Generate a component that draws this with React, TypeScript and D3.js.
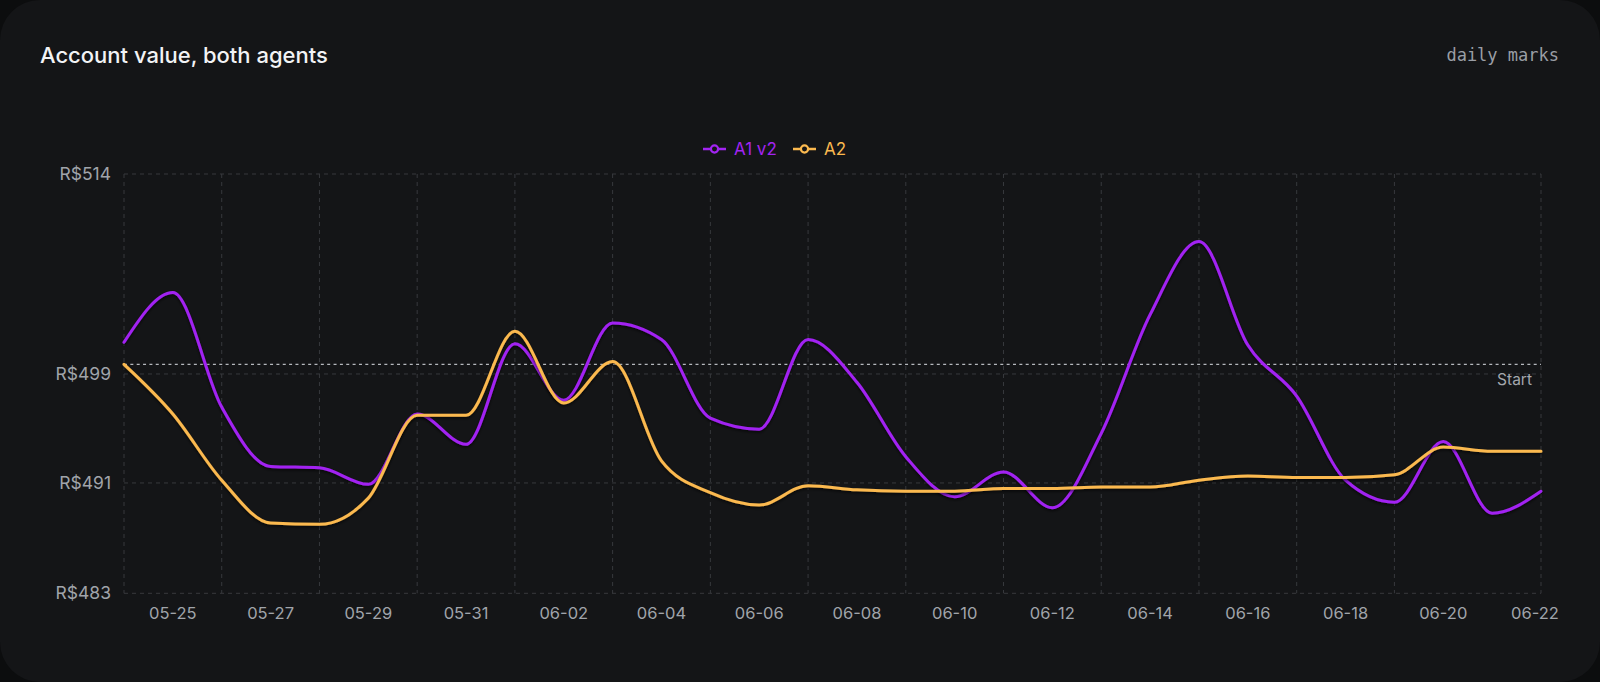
import React from "react";
import * as d3 from "d3";

const dates = [
  "05-24","05-25","05-26","05-27","05-28","05-29","05-30","05-31",
  "06-01","06-02","06-03","06-04","06-05","06-06","06-07","06-08",
  "06-09","06-10","06-11","06-12","06-13","06-14","06-15","06-16",
  "06-17","06-18","06-19","06-20","06-21","06-22",
];
const a1v2 = [
  501.6, 505.2, 496.9, 492.6, 492.5, 491.3, 496.4, 494.2, 501.5, 497.4,
  503.0, 501.8, 496.1, 495.3, 501.8, 498.7, 493.3, 490.4, 492.2, 489.6,
  495.0, 503.6, 508.9, 501.4, 497.7, 491.6, 490.0, 494.4, 489.2, 490.8,
];
const a2 = [
  500.0, 496.4, 491.6, 488.5, 488.4, 490.3, 496.3, 496.3, 502.4, 497.2,
  500.2, 493.0, 490.7, 489.8, 491.2, 490.9, 490.8, 490.8, 491.0, 491.0,
  491.1, 491.1, 491.6, 491.9, 491.8, 491.8, 492.0, 494.0, 493.7, 493.7,
];
const startValue = 500;
const yDomain = [483.4, 513.8];
const yTicks = [483.4, 491.4, 499.3, 513.8];
const xLabelIdx = d3.range(1, 30, 2);
const xGridIdx = [...d3.range(0, 27, 2), 29];
const seriesNames = ["A1 v2", "A2"];
const seriesColors = ["#a224f2", "#fbb94f"];

const W = 1600, H = 682;
const M = { left: 124, right: 1541, top: 174, bottom: 593.3 };
const SANS = "Inter, 'Noto Sans', sans-serif";
const MONO = "'DejaVu Sans Mono', 'Liberation Mono', monospace";

export default function App() {
  const x = d3.scalePoint<string>().domain(dates).range([M.left, M.right]);
  const y = d3.scaleLinear().domain(yDomain).range([M.bottom, M.top]);
  const line = d3
    .line<number>()
    .x((_, i) => x(dates[i]) as number)
    .y((v) => y(v))
    .curve(d3.curveMonotoneX);
  const series = [a1v2, a2];
  const grid = "#37393d";
  const tickColor = "#a0a4aa";
  const legendX = [703, 793];

  return (
    <svg
      width={W}
      height={H}
      style={{ position: "absolute", left: 0, top: 0, display: "block" }}
    >
      <defs>
        <filter id="sh" x="-5%" y="-20%" width="110%" height="140%">
          <feDropShadow dx="0" dy="1.5" stdDeviation="1.5" floodColor="#000" floodOpacity="0.7" />
        </filter>
      </defs>
      <rect x={0} y={0} width={W} height={H} fill="#0c0d0e" />
      <rect x={0} y={0} width={W} height={H} rx={40} ry={40} fill="#141517" />

      <text x={40} y={63} fill="#f2f3f5" fontFamily={SANS} fontSize={22} fontWeight={500}>
        Account value, both agents
      </text>
      <text x={1559} y={61} fill="#9a9ea5" fontFamily={MONO} fontSize={17} textAnchor="end">
        daily marks
      </text>

      {/* legend */}
      {seriesNames.map((n, k) => (
        <g key={n}>
          <line x1={legendX[k]} x2={legendX[k] + 23} y1={149} y2={149} stroke={seriesColors[k]} strokeWidth={2.5} />
          <circle cx={legendX[k] + 11.5} cy={149} r={3.6} fill="#141517" stroke={seriesColors[k]} strokeWidth={2.2} />
          <text x={legendX[k] + 31} y={149} dy="0.35em" fill={seriesColors[k]} fontFamily={SANS} fontSize={17}>
            {n}
          </text>
        </g>
      ))}

      {/* grid */}
      {yTicks.map((t) => (
        <line key={"h" + t} x1={M.left} x2={M.right} y1={y(t)} y2={y(t)} stroke={grid} strokeDasharray="4 4" />
      ))}
      {xGridIdx.map((i) => (
        <line key={"v" + i} x1={x(dates[i])} x2={x(dates[i])} y1={M.top} y2={M.bottom} stroke={grid} strokeDasharray="4 4" />
      ))}

      {/* y ticks */}
      {yTicks.map((t) => (
        <text key={"yt" + t} x={111} y={y(t)} dy="0.35em" textAnchor="end" fill={tickColor} fontFamily={SANS} fontSize={17.5}>
          {"R$" + Math.round(t)}
        </text>
      ))}
      {/* x ticks */}
      {xLabelIdx.map((i) => {
        const cx = Math.min(x(dates[i]) as number, M.right - 6);
        return (
          <text key={"xt" + i} x={cx} y={613} dy="0.35em" textAnchor="middle" fill={tickColor} fontFamily={SANS} fontSize={16.5}>
            {dates[i]}
          </text>
        );
      })}

      {/* start reference */}
      <line x1={M.left} x2={M.right} y1={y(startValue)} y2={y(startValue)} stroke="#b5b8bd" strokeWidth={1.3} strokeDasharray="3 3.35" />
      <text x={1532} y={385} textAnchor="end" fill="#a3a7ad" fontFamily={SANS} fontSize={15.5}>
        Start
      </text>

      {/* series */}
      {series.map((s, k) => (
        <path key={"s" + k} d={line(s) || ""} fill="none" stroke={seriesColors[k]} strokeWidth={3} strokeLinejoin="round" strokeLinecap="round" filter="url(#sh)" />
      ))}
    </svg>
  );
}
